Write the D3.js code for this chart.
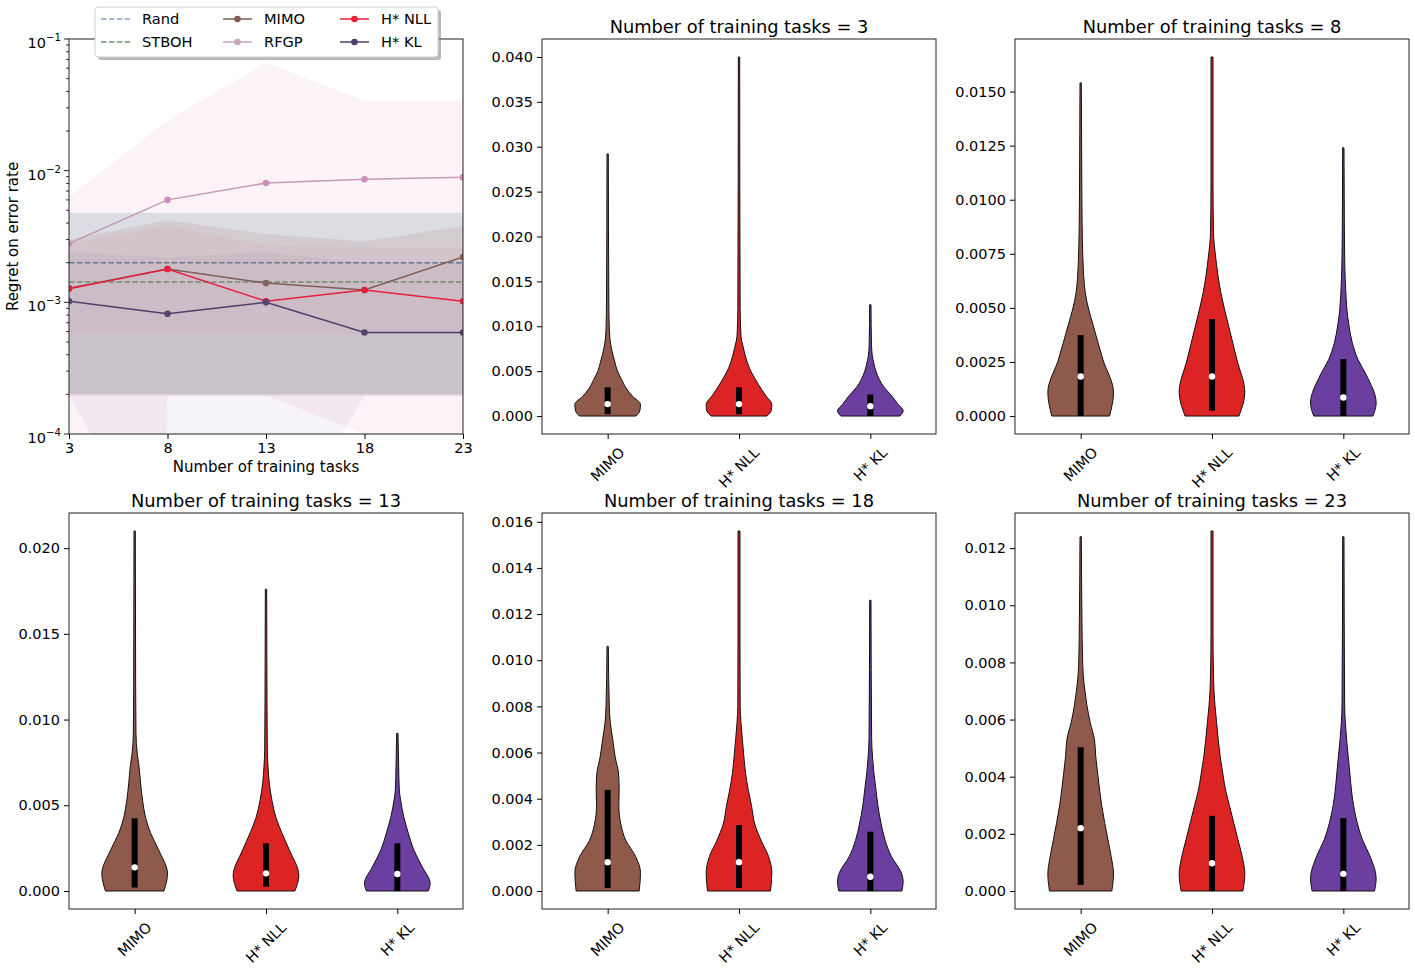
<!DOCTYPE html>
<html>
<head>
<meta charset="utf-8">
<script src="https://cdn.jsdelivr.net/npm/d3@7"></script>
<style>
  body { margin: 0; background: #fff; }
  svg text { font-family: "DejaVu Sans", sans-serif; fill: #000; }
</style>
</head>
<body>
<svg id="chart"></svg>
<script>
// ---------- data ----------
const taskCounts = [3, 8, 13, 18, 23];
const methods = ["MIMO", "H* NLL", "H* KL"];

// panel 1, mean regret (log axis)
const randMean = 2.0e-3;
const stbohMean = 1.43e-3;
const mimoMean = [1.28e-3, 1.79e-3, 1.40e-3, 1.24e-3, 2.21e-3];
const rfgpMean = [2.8e-3, 6.0e-3, 8.05e-3, 8.6e-3, 8.9e-3];
const nllMean = [1.27e-3, 1.79e-3, 1.02e-3, 1.24e-3, 1.02e-3];
const klMean = [1.02e-3, 8.2e-4, 1.0e-3, 5.9e-4, 5.9e-4];

// panel 1, shaded spread (low / high per task count)
const randLo = [2.0e-4, 2.0e-4, 2.0e-4, 2.0e-4, 2.0e-4];
const randHi = [4.8e-3, 4.8e-3, 4.8e-3, 4.8e-3, 4.8e-3];
const stbohLo = [2.0e-4, 2.0e-4, 2.0e-4, 2.0e-4, 2.0e-4];
const stbohHi = [4.8e-3, 4.8e-3, 4.8e-3, 4.8e-3, 4.8e-3];
const mimoLo = [1.95e-4, 1.95e-4, 1.95e-4, 1.95e-4, 1.95e-4];
const mimoHi = [3.0e-3, 4.2e-3, 3.3e-3, 2.9e-3, 3.8e-3];
const rfgpLo = [1e-30, 1.95e-4, 1.95e-4, 1.0e-4, 1e-5];
const rfgpHi = [6.3e-3, 2.4e-2, 6.6e-2, 3.4e-2, 3.4e-2];
const nllLo = [5.8e-4, 5.8e-4, 5.8e-4, 5.8e-4, 5.8e-4];
const nllHi = [2.8e-3, 3.8e-3, 2.7e-3, 2.6e-3, 2.6e-3];
const klLo = [1.95e-4, 1e-5, 1e-5, 1.95e-4, 1.95e-4];
const klHi = [2.4e-3, 2.2e-3, 2.4e-3, 2.0e-3, 2.0e-3];

// violins: one row per task count, one entry per method (MIMO, H* NLL, H* KL)
const violinMax = [
  [0.0292, 0.0400, 0.0124],
  [0.0154, 0.0166, 0.0124],
  [0.0210, 0.0176, 0.0092],
  [0.0106, 0.0156, 0.0126],
  [0.0124, 0.0126, 0.0124]
];
const violinQ1 = [
  [0.0002, 0.0002, 0],
  [0, 0.00025, 0],
  [0.0002, 0.00025, 0],
  [0.00013, 0.00013, 0],
  [0.00021, 0, 0]
];
const violinMedian = [
  [0.00133, 0.00133, 0.0011],
  [0.00183, 0.00183, 0.00086],
  [0.00138, 0.00103, 0.00099],
  [0.00125, 0.00125, 0.00062],
  [0.0022, 0.00097, 0.0006]
];
const violinQ3 = [
  [0.0032, 0.0032, 0.0024],
  [0.00374, 0.00448, 0.00263],
  [0.00424, 0.00278, 0.00278],
  [0.00438, 0.00286, 0.00257],
  [0.00503, 0.00263, 0.00255]
];
// outline: [value, half width as a share of the widest point]
const violinShapes = [
  [
    [[0,0.86],[0.0006,0.98],[0.0013,1],[0.0022,0.76],[0.003,0.58],[0.0041,0.42],[0.005,0.3],[0.006,0.22],[0.0078,0.1],[0.0096,0.05],[0.013,0.035],[0.0292,0.02]],
    [[0,0.85],[0.0006,0.98],[0.0013,1],[0.0022,0.83],[0.003,0.68],[0.0041,0.5],[0.005,0.36],[0.006,0.25],[0.0078,0.12],[0.0089,0.06],[0.012,0.035],[0.04,0.02]],
    [[0,0.9],[0.0006,1],[0.0013,0.85],[0.0023,0.64],[0.0032,0.42],[0.0041,0.27],[0.005,0.17],[0.006,0.1],[0.0067,0.06],[0.008,0.035],[0.0124,0.02]]
  ],
  [
    [[0,0.88],[0.0011,1],[0.0026,0.68],[0.0042,0.38],[0.0049,0.25],[0.0057,0.14],[0.0073,0.067],[0.0088,0.045],[0.0103,0.036],[0.0154,0.02]],
    [[0,0.82],[0.0011,1],[0.0026,0.76],[0.0042,0.5],[0.0057,0.27],[0.0073,0.115],[0.0085,0.045],[0.011,0.03],[0.0166,0.03]],
    [[0,0.9],[0.0006,1],[0.0019,0.7],[0.0026,0.45],[0.0034,0.27],[0.0042,0.17],[0.0049,0.11],[0.0057,0.076],[0.0069,0.045],[0.009,0.03],[0.0124,0.02]]
  ],
  [
    [[0,0.89],[0.001,1],[0.0024,0.73],[0.0034,0.48],[0.0043,0.33],[0.0053,0.24],[0.0063,0.18],[0.0073,0.13],[0.008,0.08],[0.0092,0.04],[0.012,0.03],[0.021,0.02]],
    [[0,0.88],[0.0009,1],[0.0024,0.71],[0.0034,0.48],[0.0043,0.3],[0.0053,0.18],[0.0063,0.1],[0.0073,0.06],[0.0082,0.04],[0.011,0.03],[0.0176,0.02]],
    [[0,0.94],[0.00045,1],[0.0014,0.76],[0.0024,0.5],[0.0034,0.33],[0.0043,0.2],[0.0053,0.1],[0.0059,0.06],[0.0073,0.04],[0.0092,0.02]]
  ],
  [
    [[0,0.96],[0.0008,1],[0.0015,0.85],[0.0022,0.55],[0.0029,0.4],[0.0037,0.34],[0.0044,0.35],[0.0051,0.33],[0.0058,0.23],[0.0066,0.15],[0.0073,0.08],[0.008,0.05],[0.0106,0.02]],
    [[0,0.96],[0.0008,1],[0.0015,0.9],[0.0022,0.67],[0.0029,0.48],[0.0037,0.38],[0.0044,0.28],[0.0051,0.2],[0.0058,0.15],[0.0066,0.1],[0.0073,0.06],[0.008,0.036],[0.011,0.03],[0.0156,0.03]],
    [[0,0.96],[0.0004,1],[0.0008,0.94],[0.0015,0.64],[0.0022,0.45],[0.0029,0.33],[0.0037,0.23],[0.0044,0.17],[0.0051,0.11],[0.0058,0.067],[0.0066,0.04],[0.0126,0.02]]
  ],
  [
    [[0,0.95],[0.0006,1],[0.0012,0.93],[0.0018,0.83],[0.0024,0.73],[0.003,0.64],[0.0035,0.58],[0.0041,0.52],[0.0047,0.46],[0.0053,0.42],[0.0059,0.29],[0.0065,0.19],[0.007,0.13],[0.0076,0.076],[0.0082,0.055],[0.0094,0.04],[0.0124,0.02]],
    [[0,0.94],[0.0006,1],[0.0012,0.92],[0.0018,0.79],[0.0024,0.66],[0.003,0.53],[0.0035,0.42],[0.0041,0.33],[0.0047,0.25],[0.0053,0.19],[0.0059,0.14],[0.0065,0.09],[0.007,0.06],[0.0076,0.045],[0.009,0.03],[0.0126,0.03]],
    [[0,0.95],[0.00044,1],[0.0012,0.82],[0.0018,0.58],[0.0024,0.42],[0.003,0.31],[0.0035,0.25],[0.0041,0.2],[0.0047,0.15],[0.0053,0.1],[0.0059,0.06],[0.0065,0.04],[0.0124,0.02]]
  ]
];
const yTickStep = [0.005, 0.0025, 0.005, 0.002, 0.002];
const yTickDigits = [3, 4, 3, 3, 3];

// ---------- styles ----------
const violinColors = ["#8f5a4c", "#dc2424", "#6a3fa0"];
const W = 1415, H = 970;
const tickFont = 14.5, labelFont = 15, titleFont = 17.8;

const panels = [
  {x: 69, y: 39, w: 394, h: 395},
  {x: 542, y: 39, w: 394, h: 395},
  {x: 1015, y: 39, w: 394, h: 395},
  {x: 69, y: 513, w: 394, h: 396},
  {x: 542, y: 513, w: 394, h: 396},
  {x: 1015, y: 513, w: 394, h: 396}
];

const svg = d3.select("#chart").attr("width", W).attr("height", H);
svg.append("rect").attr("width", W).attr("height", H).attr("fill", "#fff");
const defs = svg.append("defs");

function frame(g, p) {
  g.append("rect").attr("width", p.w).attr("height", p.h)
    .attr("fill", "none").attr("stroke", "#222").attr("stroke-width", 1);
}

// ---------- panel 1: regret vs number of tasks ----------
{
  const p = panels[0];
  const g = svg.append("g").attr("transform", `translate(${p.x},${p.y})`);
  const x = d3.scaleLinear().domain(d3.extent(taskCounts)).range([0, p.w]);
  const y = d3.scaleLog().domain([1e-4, 1e-1]).range([p.h, 0]);

  defs.append("clipPath").attr("id", "clip0")
    .append("rect").attr("width", p.w).attr("height", p.h);
  const plot = g.append("g").attr("clip-path", "url(#clip0)");

  const bands = [
    {lo: rfgpLo, hi: rfgpHi, color: "#e377c2", op: 0.09},
    {lo: randLo, hi: randHi, color: "#7d9bb0", op: 0.2},
    {lo: stbohLo, hi: stbohHi, color: "#8aa08a", op: 0.07},
    {lo: mimoLo, hi: mimoHi, color: "#8c564b", op: 0.12},
    {lo: nllLo, hi: nllHi, color: "#e6194b", op: 0.04},
    {lo: klLo, hi: klHi, color: "#5e4b8b", op: 0.06}
  ];
  const area = d3.area()
    .x((d, i) => x(taskCounts[i]))
    .y0(d => y(d[0])).y1(d => y(d[1]));
  bands.forEach(b => {
    plot.append("path").datum(b.lo.map((v, i) => [v, b.hi[i]]))
      .attr("d", area).attr("fill", b.color).attr("fill-opacity", b.op);
  });

  // constant baselines
  [{v: randMean, color: "#62778f"}, {v: stbohMean, color: "#6d8f6d"}].forEach(s => {
    plot.append("line").attr("x1", 0).attr("x2", p.w)
      .attr("y1", y(s.v)).attr("y2", y(s.v))
      .attr("stroke", s.color).attr("stroke-width", 1.5)
      .attr("stroke-dasharray", "5.5,2.4");
  });

  const line = d3.line().x((d, i) => x(taskCounts[i])).y(d => y(d));
  const series = [
    {vals: rfgpMean, color: "#c49ab4", dot: "#d08cbb"},
    {vals: mimoMean, color: "#7d5f58", dot: "#85655d"},
    {vals: nllMean, color: "#e8203c", dot: "#e8203c"},
    {vals: klMean, color: "#4f3f6d", dot: "#54456f"}
  ];
  series.forEach(s => {
    plot.append("path").datum(s.vals).attr("d", line)
      .attr("fill", "none").attr("stroke", s.color).attr("stroke-width", 1.5);
    plot.selectAll(null).data(s.vals).enter().append("circle")
      .attr("cx", (d, i) => x(taskCounts[i])).attr("cy", d => y(d))
      .attr("r", 3.3).attr("fill", s.dot);
  });

  frame(g, p);

  // x axis
  const xAxis = g.append("g").attr("transform", `translate(0,${p.h})`)
    .call(d3.axisBottom(x).tickValues(taskCounts).tickSize(5).tickPadding(4));
  xAxis.select(".domain").remove();
  xAxis.selectAll("text").attr("font-size", tickFont);
  g.append("text").attr("x", p.w / 2).attr("y", p.h + 38)
    .attr("text-anchor", "middle").attr("font-size", labelFont)
    .text("Number of training tasks");

  // y axis, major and minor ticks
  const allTicks = y.ticks();
  const isMajor = d => Math.abs(Math.log10(d) - Math.round(Math.log10(d))) < 1e-9;
  g.selectAll(null).data(allTicks).enter().append("line")
    .attr("x1", d => isMajor(d) ? -5 : -2.8).attr("x2", 0)
    .attr("y1", d => y(d)).attr("y2", d => y(d))
    .attr("stroke", "#222").attr("stroke-width", 1);
  const majors = allTicks.filter(isMajor);
  majors.forEach(d => {
    const t = g.append("text").attr("x", -8).attr("y", y(d) + 9)
      .attr("text-anchor", "end").attr("font-size", tickFont);
    t.append("tspan").text("10");
    t.append("tspan").attr("dy", -7).attr("font-size", 10.2)
      .text("\u2212" + Math.round(-Math.log10(d)));
  });
  g.append("text")
    .attr("transform", `translate(${-51},${p.h / 2}) rotate(-90)`)
    .attr("text-anchor", "middle").attr("font-size", labelFont)
    .text("Regret on error rate");

  // legend
  const lg = svg.append("g").attr("transform", "translate(95,7)");
  lg.append("rect").attr("x", 3).attr("y", 3).attr("width", 343).attr("height", 50)
    .attr("rx", 3).attr("fill", "#8a8a8a").attr("fill-opacity", 0.6);
  lg.append("rect").attr("width", 343).attr("height", 50).attr("rx", 3)
    .attr("fill", "#fff").attr("stroke", "#d0d0d0").attr("stroke-width", 1);
  const legendItems = [
    {name: "Rand", color: "#8aa3bd", dash: true},
    {name: "STBOH", color: "#6f9472", dash: true},
    {name: "MIMO", color: "#7d5f58"},
    {name: "RFGP", color: "#cca2bc"},
    {name: "H* NLL", color: "#e8203c"},
    {name: "H* KL", color: "#4f3f6d"}
  ];
  const colX = [6, 128, 245], rowY = [12, 35];
  legendItems.forEach((it, i) => {
    const cx = colX[Math.floor(i / 2)], cy = rowY[i % 2];
    lg.append("line").attr("x1", cx).attr("x2", cx + 29).attr("y1", cy).attr("y2", cy)
      .attr("stroke", it.color).attr("stroke-width", 1.5)
      .attr("stroke-dasharray", it.dash ? "5.5,2.4" : null);
    if (!it.dash) {
      lg.append("circle").attr("cx", cx + 14.5).attr("cy", cy).attr("r", 3.3).attr("fill", it.color);
    }
    lg.append("text").attr("x", cx + 41).attr("y", cy).attr("dy", "0.36em")
      .attr("font-size", 14.6).text(it.name);
  });
}

// ---------- violin panels ----------
taskCounts.forEach((tc, i) => {
  const p = panels[i + 1];
  const g = svg.append("g").attr("transform", `translate(${p.x},${p.y})`);
  const x = d3.scaleLinear().domain([0.5, methods.length + 0.5]).range([0, p.w]);
  const vmax = d3.max(violinMax[i]);
  const pad = vmax * 0.05;
  const y = d3.scaleLinear().domain([-pad, vmax + pad]).range([p.h, 0]);
  const half = 0.25;

  methods.forEach((m, j) => {
    const c = j + 1;
    const area = d3.area().curve(d3.curveMonotoneY)
      .y(d => y(d[0]))
      .x0(d => x(c - half * d[1]))
      .x1(d => x(c + half * d[1]));
    g.append("path").datum(violinShapes[i][j]).attr("d", area)
      .attr("fill", violinColors[j]).attr("stroke", "#111").attr("stroke-width", 1);
    // quartile bar and median
    g.append("line").attr("x1", x(c)).attr("x2", x(c))
      .attr("y1", y(violinQ1[i][j])).attr("y2", y(violinQ3[i][j]))
      .attr("stroke", "#000").attr("stroke-width", 6);
    g.append("circle").attr("cx", x(c)).attr("cy", y(violinMedian[i][j]))
      .attr("r", 3.2).attr("fill", "#fff");
  });

  frame(g, p);

  const ticks = d3.range(0, y.domain()[1] + 1e-9, yTickStep[i]);
  const yAxis = g.append("g")
    .call(d3.axisLeft(y).tickValues(ticks)
      .tickFormat(d3.format(`.${yTickDigits[i]}f`)).tickSize(5).tickPadding(4));
  yAxis.select(".domain").remove();
  yAxis.selectAll("text").attr("font-size", tickFont);

  const xAxis = g.append("g").attr("transform", `translate(0,${p.h})`)
    .call(d3.axisBottom(x).tickValues(methods.map((m, j) => j + 1)).tickSize(5).tickFormat(""));
  xAxis.select(".domain").remove();
  methods.forEach((m, j) => {
    const t = g.append("text").attr("font-size", tickFont)
      .attr("text-anchor", "middle").attr("dy", "0.35em").text(m);
    const w = t.node().getComputedTextLength();
    const hh = (w + tickFont * 1.15) * Math.SQRT1_2;
    t.attr("transform", `translate(${x(j + 1)},${p.h + 10 + hh / 2}) rotate(-45)`);
  });

  g.append("text").attr("x", p.w / 2).attr("y", -6)
    .attr("text-anchor", "middle").attr("font-size", titleFont)
    .text(`Number of training tasks = ${tc}`);
});
</script>
</body>
</html>
